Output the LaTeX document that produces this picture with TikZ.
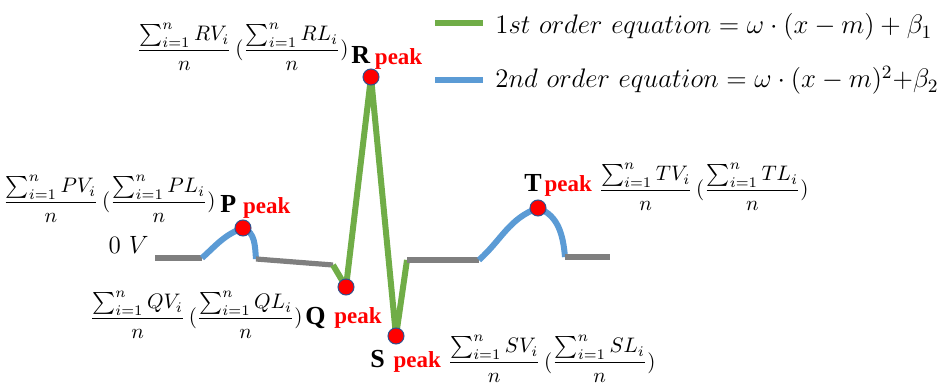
\RequirePackage{fix-cm}
\documentclass[tikz,border=0pt]{standalone}
\usepackage{amsmath}
\usepackage{fontspec}
\usepackage{tikz}
\usetikzlibrary{positioning,calc}
\newfontfamily\lblfont{Liberation Serif}
\definecolor{ordone}{HTML}{70AD47}
\definecolor{ordtwo}{HTML}{5B9BD5}
\definecolor{baseln}{HTML}{7F7F7F}
\definecolor{dotred}{HTML}{FF0000}
\definecolor{dotrim}{HTML}{2F528F}
\newcommand{\avgpair}[1]{$\dfrac{\sum_{i=1}^{n} #1V_i}{n}\,(\dfrac{\sum_{i=1}^{n} #1L_i}{n})$}

\begin{document}
\begin{tikzpicture}[x=0.5pt,y=0.5pt,
    wave1/.style={ordone,line width=3pt,line join=round},
    wave2/.style={ordtwo,line width=3pt},
    flat/.style={baseln,line width=2.6pt},
    pkdot/.style={circle,fill=dotred,draw=dotrim,line width=0.5pt,
                  minimum size=8pt,inner sep=0pt},
    pkname/.style={font=\lblfont\fontsize{13}{13}\selectfont\bfseries,
                   inner sep=0pt,anchor=base west},
    pkword/.style={font=\lblfont\fontsize{11.5}{12}\selectfont\bfseries,
                   text=dotred,inner sep=0pt,anchor=base west},
    formula/.style={font=\fontsize{10.5}{12}\selectfont,inner sep=0pt},
    legend/.style={font=\fontsize{13.4}{15}\selectfont,inner sep=0pt,
                   anchor=base west}]
  \useasboundingbox (0,0) rectangle (941,-389);

  % points of the wave
  \coordinate (v0) at (155,-258);
  \coordinate (p0) at (202,-258);
  \coordinate (ppt) at (243,-228);
  \coordinate (p1) at (256,-259);
  \coordinate (q0) at (333,-265);
  \coordinate (qpt) at (346,-287);
  \coordinate (rpt) at (371,-77);
  \coordinate (spt) at (396,-336);
  \coordinate (s1) at (407,-260);
  \coordinate (t0) at (479,-260);
  \coordinate (tpt) at (538,-208);
  \coordinate (t1) at (565,-257);
  \coordinate (v1) at (610,-257);

  \draw[flat] (v0) -- (p0);
  \draw[wave2] (p0) to[out=42,in=200] (ppt) to[out=-20,in=95] (p1);
  \draw[flat] (p1) -- (q0);
  \draw[wave1] (q0) -- (qpt) -- (rpt) -- (spt) -- (s1);
  \draw[flat] (s1) -- (t0);
  \draw[wave2] (t0) to[out=42,in=200] (tpt) to[out=-20,in=95] (t1);
  \draw[flat] (t1) -- (v1);

  \node[pkdot] (pdot) at (ppt) {};
  \node[pkdot] (qdot) at (qpt) {};
  \node[pkdot] (rdot) at (rpt) {};
  \node[pkdot] (sdot) at (spt) {};
  \node[pkdot] (tdot) at (tpt) {};

  \node[formula, anchor=base east,font=\fontsize{12.5}{13}\selectfont] (zerov) at ([xshift=-3pt,yshift=2pt]v0) {$0\ V$};

  % peak labels
  \node[pkname] (rname) at (351,-64) {R};
  \node[pkword] (rpeak) at ([xshift=2pt,yshift=-0.5pt]rname.base east) {peak};
  \node[formula, anchor=base east] (rform) at ([xshift=-1pt,yshift=4pt]rname.base west) {\avgpair{R}};

  \node[pkname] (pname) at (220,-213) {P};
  \node[pkword] (ppeak) at ([xshift=3pt,yshift=-0.5pt]pname.base east) {peak};
  \node[formula, anchor=base east] (pform) at ([xshift=-2pt,yshift=2.5pt]pname.base west) {\avgpair{P}};

  \node[pkname] (qname) at (305,-325) {Q};
  \node[pkword] (qpeak) at ([xshift=4pt,yshift=0.5pt]qname.base east) {peak};
  \node[formula, anchor=base east] (qform) at ([xshift=-1pt,yshift=0.5pt]qname.base west) {\avgpair{Q}};

  \node[pkname] (sname) at (370,-367) {S};
  \node[pkword] (speak) at ([xshift=4pt]sname.base east) {peak};
  \node[formula, anchor=base west] (sform) at ([xshift=3pt,yshift=-0.5pt]speak.base east) {\avgpair{S}};

  \node[pkname] (tname) at (524,-192) {T};
  \node[pkword] (tpeak) at ([xshift=1pt]tname.base east) {peak};
  \node[formula, anchor=base west] (tform) at ([xshift=3pt,yshift=-2pt]tpeak.base east) {\avgpair{T}};

  % legend
  \coordinate (g0) at (435,-23);
  \coordinate (g1) at (483,-23);
  \coordinate (b0) at (435,-80);
  \coordinate (b1) at (483,-80);
  \draw[wave1] (g0) -- (g1);
  \draw[wave2] (b0) -- (b1);
  \node[legend] (leg1) at (495,-34) {$1st\ order\ equation = \omega\cdot(x-m)+\beta_1$};
  \node[legend] (leg2) at (495,-88) {$2nd\ order\ equation = \omega\cdot(x-m)^2{+}\beta_2$};
\end{tikzpicture}
\end{document}
